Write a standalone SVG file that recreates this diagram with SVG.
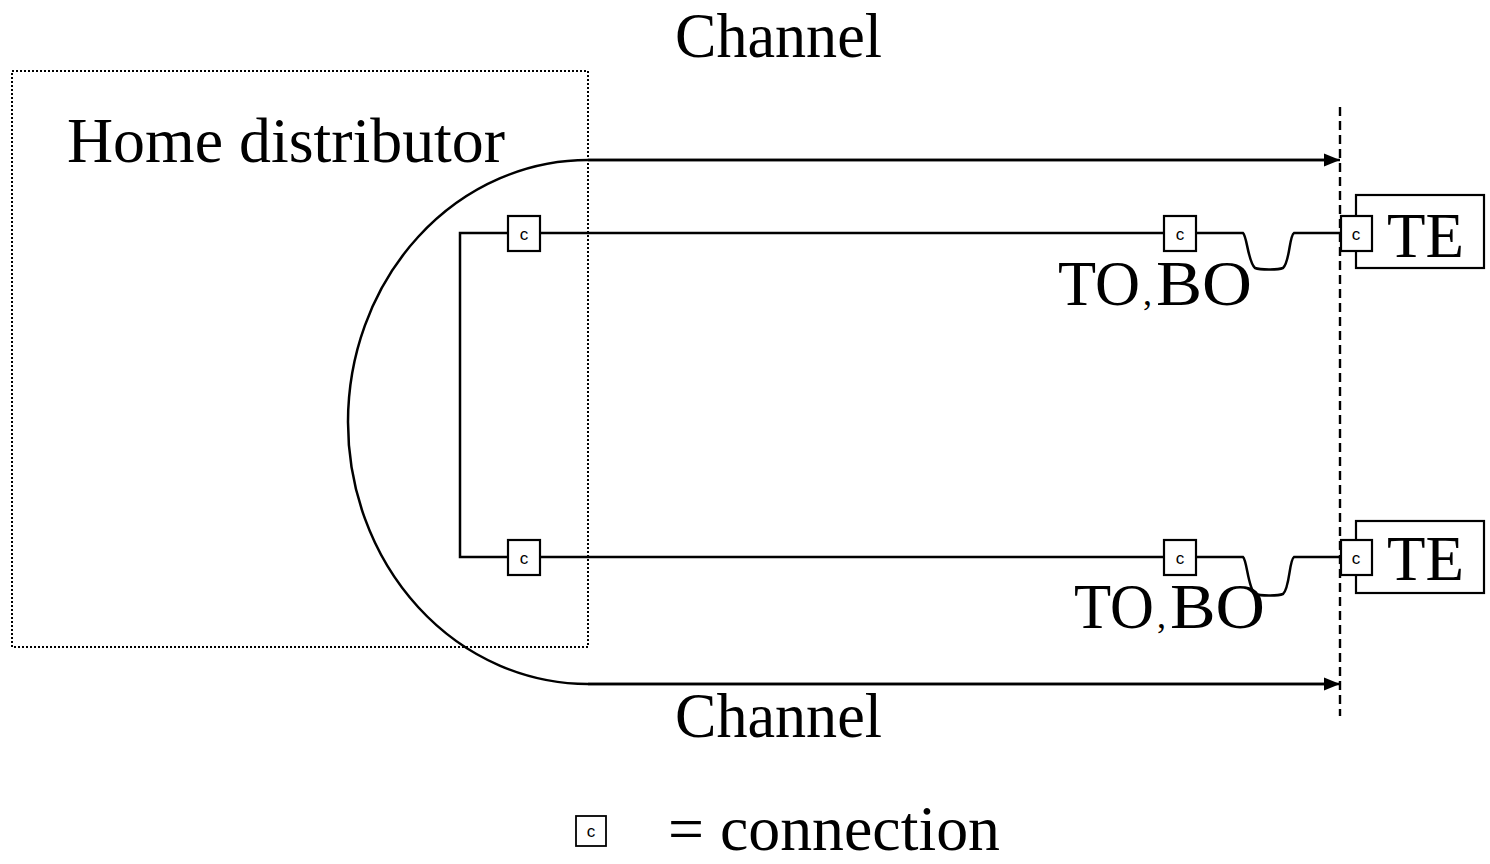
<svg xmlns="http://www.w3.org/2000/svg" width="1490" height="864" viewBox="0 0 1490 864">
  <defs>
    <marker id="arrow" markerWidth="18" markerHeight="16" refX="16" refY="8" orient="auto" markerUnits="userSpaceOnUse">
      <path d="M0,1.5 L16,8 L0,14.5 Z" fill="#000"/>
    </marker>
    <style>
      .wire { fill: none; stroke: #000; stroke-width: 2.5; }
      .box { fill: #fff; stroke: #000; stroke-width: 2.2; }
      .lbl { font-family: "Liberation Serif", "Times New Roman", serif; font-size: 64px; fill: #000; }
      .c { font-family: "Liberation Sans", Arial, sans-serif; font-size: 17px; fill: #000; text-anchor: middle; }
    </style>
  </defs>
  <rect width="1490" height="864" fill="#fff"/>

  <!-- home distributor enclosure -->
  <g id="home-distributor">
    <rect x="12" y="71" width="576" height="576" fill="none" stroke="#000" stroke-width="2" stroke-dasharray="2,2"/>
    <text class="lbl" x="67" y="162" textLength="438" lengthAdjust="spacingAndGlyphs">Home distributor</text>
  </g>

  <!-- interface boundary -->
  <g id="boundary">
    <line x1="1340" y1="107" x2="1340" y2="716" stroke="#000" stroke-width="2.4" stroke-dasharray="9,5"/>
  </g>

  <!-- wiring -->
  <g id="connectors">
    <!-- channel span -->
    <path class="wire" d="M1325,160 L588,160 A240,262 0 0 0 588,684 L1325,684"/>
    <line class="wire" x1="588" y1="160" x2="1340" y2="160" marker-end="url(#arrow)"/>
    <line class="wire" x1="588" y1="684" x2="1340" y2="684" marker-end="url(#arrow)"/>
    <!-- distributor bus -->
    <path class="wire" d="M508,233 L460,233 L460,557 L508,557"/>
    <!-- permanent links -->
    <line class="wire" x1="541" y1="233" x2="1164" y2="233"/>
    <line class="wire" x1="541" y1="557" x2="1164" y2="557"/>
    <!-- equipment cords -->
    <path class="wire" d="M1197,233 L1243,233 C1247,236 1248,262 1255,268 C1260,270 1278,270 1283,268 C1290,262 1289,236 1294,233 L1341,233"/>
    <path class="wire" d="M1197,557 L1243,557 C1247,560 1248,588 1255,594 C1260,596 1278,596 1283,594 C1290,588 1289,560 1294,557 L1341,557"/>
  </g>

  <!-- connections at the distributor -->
  <g id="conn-hd-1">
    <rect class="box" x="508" y="216" width="32" height="35"/>
    <text class="c" x="524" y="240">c</text>
  </g>
  <g id="conn-hd-2">
    <rect class="box" x="508" y="540" width="32" height="35"/>
    <text class="c" x="524" y="564">c</text>
  </g>

  <!-- telecommunications outlets -->
  <g id="outlet-1">
    <rect class="box" x="1164" y="216" width="32" height="35"/>
    <text class="c" x="1180" y="240">c</text>
    <text class="lbl" y="305"><tspan x="1058" textLength="82" lengthAdjust="spacingAndGlyphs">TO</tspan><tspan x="1143" font-size="36">,</tspan><tspan x="1156" textLength="96" lengthAdjust="spacingAndGlyphs">BO</tspan></text>
  </g>
  <g id="outlet-2">
    <rect class="box" x="1164" y="540" width="32" height="35"/>
    <text class="c" x="1180" y="564">c</text>
    <text class="lbl" y="628"><tspan x="1074" textLength="80" lengthAdjust="spacingAndGlyphs">TO</tspan><tspan x="1157" font-size="36">,</tspan><tspan x="1170" textLength="95" lengthAdjust="spacingAndGlyphs">BO</tspan></text>
  </g>

  <!-- terminal equipment -->
  <g id="te-1">
    <rect class="box" x="1356" y="195" width="128" height="73"/>
    <text class="lbl" x="1387" y="257" textLength="77" lengthAdjust="spacingAndGlyphs">TE</text>
    <rect class="box" x="1341" y="216" width="31" height="35"/>
    <text class="c" x="1356" y="240">c</text>
  </g>
  <g id="te-2">
    <rect class="box" x="1356" y="521" width="128" height="72"/>
    <text class="lbl" x="1387" y="580" textLength="77" lengthAdjust="spacingAndGlyphs">TE</text>
    <rect class="box" x="1341" y="540" width="31" height="35"/>
    <text class="c" x="1356" y="564">c</text>
  </g>

  <!-- channel labels -->
  <g id="channel-top">
    <text class="lbl" x="675" y="57" font-size="55" textLength="207" lengthAdjust="spacingAndGlyphs">Channel</text>
  </g>
  <g id="channel-bottom">
    <text class="lbl" x="675" y="737" font-size="56" textLength="207" lengthAdjust="spacingAndGlyphs">Channel</text>
  </g>

  <!-- legend -->
  <g id="legend">
    <rect x="576" y="816" width="30" height="30" fill="#fff" stroke="#000" stroke-width="1.8"/>
    <text class="c" x="591" y="837" font-size="15">c</text>
    <text class="lbl" x="668" y="850" font-size="60" textLength="332" lengthAdjust="spacingAndGlyphs">= connection</text>
  </g>
</svg>
